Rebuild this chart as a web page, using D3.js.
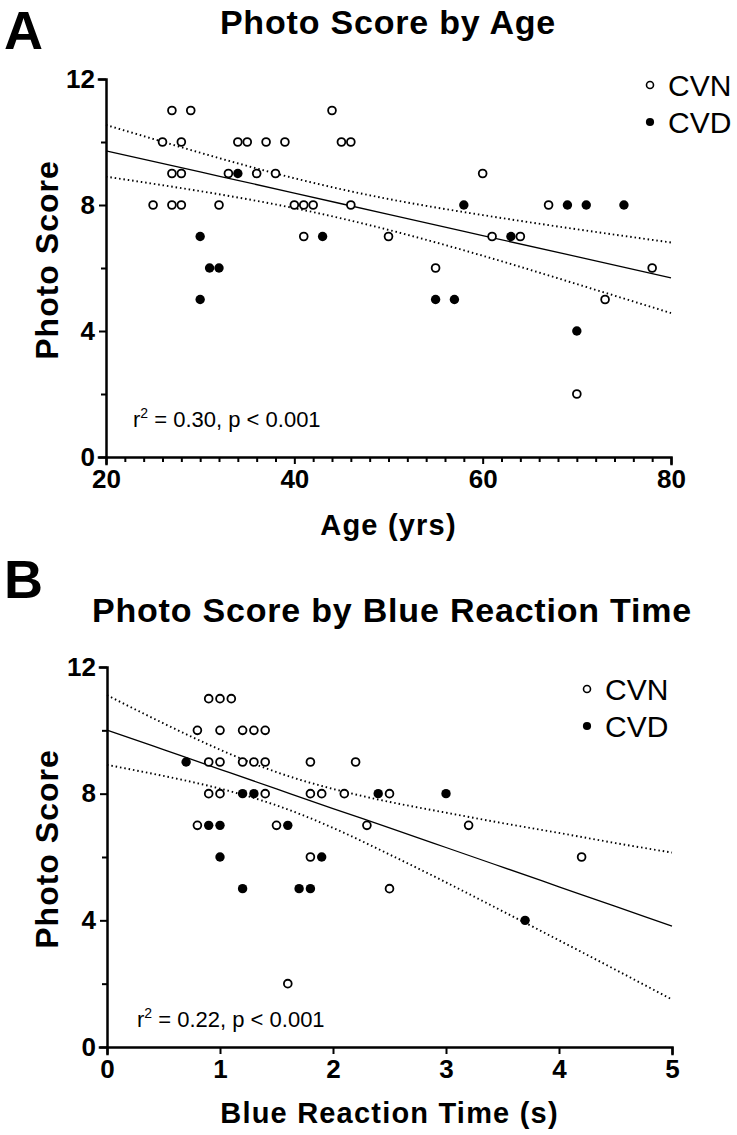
<!DOCTYPE html>
<html>
<head>
<meta charset="utf-8">
<script src="https://cdn.jsdelivr.net/npm/d3@7"></script>
<style>
  body { margin: 0; background: #fff; }
  svg { display: block; font-family: "Liberation Sans", Arial, sans-serif; }
</style>
</head>
<body>
<svg id="fig" width="737" height="1135"></svg>
<script>
// Panel A: age (yrs) vs photo score
const ageCVN = [
  [27, 11], [29, 11], [44, 11],
  [26, 10], [28, 10], [34, 10], [35, 10], [37, 10], [39, 10], [45, 10], [46, 10],
  [27, 9], [28, 9], [33, 9], [36, 9], [38, 9], [60, 9],
  [25, 8], [27, 8], [28, 8], [32, 8], [40, 8], [41, 8], [42, 8], [46, 8], [67, 8],
  [41, 7], [50, 7], [61, 7], [64, 7],
  [55, 6], [78, 6],
  [73, 5],
  [70, 2]
];
const ageCVD = [
  [34, 9],
  [58, 8], [69, 8], [71, 8], [75, 8],
  [30, 7], [43, 7], [63, 7],
  [31, 6], [32, 6],
  [30, 5], [55, 5], [57, 5],
  [70, 4]
];

// fitted line and 95% band
const ageFitX = [20, 30, 40, 50, 60, 70, 80];
const ageFitY = [9.72, 9.05, 8.38, 7.70, 7.03, 6.36, 5.69];
const ageFitHi = [10.54, 9.66, 8.85, 8.19, 7.68, 7.23, 6.81];
const ageFitLo = [8.90, 8.44, 7.90, 7.21, 6.39, 5.49, 4.57];

// Panel B: blue reaction time (s) vs photo score
const rtCVN = [
  [0.9, 11], [1.0, 11], [1.1, 11],
  [0.8, 10], [1.0, 10], [1.2, 10], [1.3, 10], [1.4, 10],
  [0.9, 9], [1.0, 9], [1.2, 9], [1.3, 9], [1.4, 9], [1.8, 9], [2.2, 9],
  [0.9, 8], [1.0, 8], [1.4, 8], [1.8, 8], [1.9, 8], [2.1, 8], [2.5, 8],
  [0.8, 7], [1.5, 7], [2.3, 7], [3.2, 7],
  [1.8, 6], [4.2, 6],
  [2.5, 5],
  [1.6, 2]
];
const rtCVD = [
  [0.7, 9],
  [1.2, 8], [1.3, 8], [2.4, 8], [3.0, 8],
  [0.9, 7], [1.0, 7], [1.6, 7],
  [1.0, 6], [1.9, 6],
  [1.2, 5], [1.7, 5], [1.8, 5],
  [3.7, 4]
];

// fitted line and 95% band
const rtFitX = [0, 0.5, 1, 1.5, 2, 2.5, 3, 3.5, 4, 4.5, 5];
const rtFitY = [10.01, 9.39, 8.77, 8.15, 7.53, 6.92, 6.30, 5.68, 5.06, 4.44, 3.82];
const rtFitHi = [11.11, 10.22, 9.39, 8.68, 8.15, 7.74, 7.40, 7.07, 6.76, 6.44, 6.14];
const rtFitLo = [8.91, 8.56, 8.16, 7.63, 6.92, 6.08, 5.20, 4.29, 3.37, 2.44, 1.50];

const yTicks = [0, 2, 4, 6, 8, 10, 12];
const yLabels = [0, 4, 8, 12];
const ageTicks = d3.range(20, 81, 2);
const ageLabels = [20, 40, 60, 80];
const rtTicks = [0, 1, 2, 3, 4, 5];
const rtLabels = [0, 1, 2, 3, 4, 5];
const legendNames = ["CVN", "CVD"];

const svg = d3.select("#fig");
const INK = "#000";

function drawPanel(p) {
  const g = svg.append("g");
  const x = d3.scaleLinear().domain(p.xDomain).range([p.left, p.right]);
  const y = d3.scaleLinear().domain([0, 12]).range([p.bottom, p.top]);

  // panel letter and title
  g.append("text")
    .attr("x", 4).attr("y", p.letterY)
    .attr("font-size", 54).attr("font-weight", "bold")
    .text(p.letter);
  g.append("text")
    .attr("x", p.titleX).attr("y", p.titleY)
    .attr("text-anchor", "middle")
    .attr("font-size", 34).attr("font-weight", "bold")
    .attr("letter-spacing", 0.8)
    .text(p.title);

  // fit and confidence band
  const line = vals => d3.line()
    .x((d, i) => x(p.fitX[i])).y(d => y(d))
    .curve(d3.curveNatural)(vals);
  g.append("path")
    .attr("d", line(p.fitY)).attr("fill", "none")
    .attr("stroke", INK).attr("stroke-width", 1.3);
  [p.fitLo, p.fitHi].forEach(vals => {
    g.append("path")
      .attr("d", line(vals)).attr("fill", "none")
      .attr("stroke", INK).attr("stroke-width", 1.9)
      .attr("stroke-dasharray", "1.5,2.9");
  });

  // axes
  const yAxis = d3.axisLeft(y)
    .tickValues(yTicks).tickSizeOuter(0).tickSize(7).tickPadding(4)
    .tickFormat(d => yLabels.includes(d) ? d : "");
  const xAxis = d3.axisBottom(x)
    .tickValues(p.xTicks).tickSizeOuter(0).tickSize(7).tickPadding(6)
    .tickFormat(d => p.xLabels.includes(d) ? d : "");

  const gy = g.append("g").attr("transform", `translate(${p.left},0)`).call(yAxis);
  const gx = g.append("g").attr("transform", `translate(0,${p.bottom})`).call(xAxis);
  [gy, gx].forEach(a => {
    a.select(".domain").attr("stroke", INK).attr("stroke-width", 2.5).attr("stroke-linecap", "square");
    a.selectAll(".tick line").attr("stroke", INK).attr("stroke-width", 2);
    a.selectAll("text")
      .attr("fill", INK)
      .attr("font-size", 26).attr("font-weight", "bold")
      .attr("font-family", "'Liberation Sans', Arial, sans-serif");
  });
  gy.selectAll(".tick line").filter(d => !yLabels.includes(d)).attr("x2", -5);
  gx.selectAll(".tick line").filter(d => !p.xLabels.includes(d)).attr("y2", 5);

  // axis titles
  g.append("text")
    .attr("transform", `translate(${p.yLabelX},${(p.top + p.bottom) / 2 - 8}) rotate(-90)`)
    .attr("text-anchor", "middle")
    .attr("font-size", 32).attr("font-weight", "bold")
    .attr("letter-spacing", 1)
    .text("Photo Score");
  g.append("text")
    .attr("x", (p.left + p.right) / 2).attr("y", p.xLabelY)
    .attr("text-anchor", "middle")
    .attr("font-size", 29).attr("font-weight", "bold")
    .attr("letter-spacing", 1.2)
    .text(p.xTitle);

  // points
  g.append("g").selectAll("circle")
    .data(p.open).join("circle")
    .attr("cx", d => x(d[0])).attr("cy", d => y(d[1]))
    .attr("r", 3.9).attr("fill", "#fff")
    .attr("stroke", INK).attr("stroke-width", 1.8);
  g.append("g").selectAll("circle")
    .data(p.filled).join("circle")
    .attr("cx", d => x(d[0])).attr("cy", d => y(d[1]))
    .attr("r", 4.7).attr("fill", INK);

  // legend
  const lg = g.append("g").attr("transform", `translate(${p.legendX},${p.legendY})`);
  legendNames.forEach((name, i) => {
    const row = lg.append("g").attr("transform", `translate(0,${i * 37})`);
    row.append("circle")
      .attr("r", i === 0 ? 3.5 : 4.1)
      .attr("fill", i === 0 ? "#fff" : INK)
      .attr("stroke", INK).attr("stroke-width", i === 0 ? 1.6 : 0);
    row.append("text")
      .attr("x", 18).attr("y", 10.5)
      .attr("font-size", 30)
      .text(name);
  });

  // r^2 note
  const note = g.append("text")
    .attr("x", p.noteX).attr("y", p.noteY)
    .attr("font-size", 22);
  note.append("tspan").text("r");
  note.append("tspan").attr("dy", -9).attr("font-size", 14).text("2");
  note.append("tspan").attr("dy", 9).text(` = ${p.r2}, p < 0.001`);
}

drawPanel({
  letter: "A", letterY: 49,
  title: "Photo Score by Age", titleX: 388, titleY: 34,
  xDomain: [20, 80], xTicks: ageTicks, xLabels: ageLabels,
  left: 106, right: 671, top: 79, bottom: 457,
  yLabelX: 58, xLabelY: 535, xTitle: "Age (yrs)",
  open: ageCVN, filled: ageCVD,
  fitX: ageFitX, fitY: ageFitY, fitHi: ageFitHi, fitLo: ageFitLo,
  legendX: 650, legendY: 85,
  noteX: 133, noteY: 427, r2: "0.30"
});

drawPanel({
  letter: "B", letterY: 598,
  title: "Photo Score by Blue Reaction Time", titleX: 392, titleY: 622,
  xDomain: [0, 5], xTicks: rtTicks, xLabels: rtLabels,
  left: 107, right: 672, top: 667, bottom: 1047,
  yLabelX: 58, xLabelY: 1123, xTitle: "Blue Reaction Time (s)",
  open: rtCVN, filled: rtCVD,
  fitX: rtFitX, fitY: rtFitY, fitHi: rtFitHi, fitLo: rtFitLo,
  legendX: 587, legendY: 689,
  noteX: 137, noteY: 1027, r2: "0.22"
});
</script>
</body>
</html>
